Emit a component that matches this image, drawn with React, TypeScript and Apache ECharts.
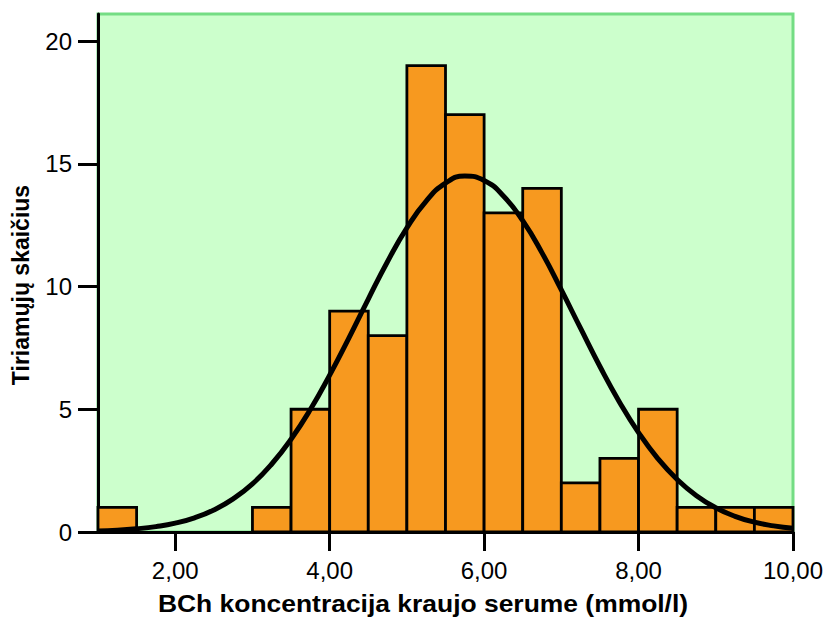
import React, { useEffect, useRef } from "react";
import * as echarts from "echarts";

// Histogram bins (start, end) and counts
const binStarts = [1.0, 1.5, 2.0, 2.5, 3.0, 3.5, 4.0, 4.5, 5.0, 5.5, 6.0, 6.5, 7.0, 7.5, 8.0, 8.5, 9.0, 9.5];
const binWidth = 0.5;
const counts = [1, 0, 0, 0, 1, 5, 9, 8, 19, 17, 13, 14, 2, 3, 5, 1, 1, 1];

// Normal curve, values
const curveX = [
  1.0, 1.25, 1.5, 1.75, 2.0, 2.25, 2.5, 2.75, 3.0, 3.25, 3.5, 3.75, 4.0, 4.25, 4.5, 4.75, 5.0, 5.25, 5.5,
  5.75, 6.0, 6.25, 6.5, 6.75, 7.0, 7.25, 7.5, 7.75, 8.0, 8.25, 8.5, 8.75, 9.0, 9.25, 9.5, 9.75, 10.0,
];
const curveY = [
  0.04, 0.07, 0.13, 0.22, 0.36, 0.58, 0.9, 1.35, 1.96, 2.77, 3.78, 4.99, 6.39, 7.91, 9.49, 11.02, 12.39, 13.48, 14.21,
  14.5, 14.32, 13.69, 12.68, 11.37, 9.86, 8.29, 6.74, 5.31, 4.05, 2.99, 2.14, 1.48, 0.99, 0.64, 0.4, 0.25, 0.15,
];

const xTickValues = [2, 4, 6, 8, 10];
const xTickLabels = ["2,00", "4,00", "6,00", "8,00", "10,00"];
const yTickValues = [0, 5, 10, 15, 20];

const xTitle = "BCh koncentracija kraujo serume (mmol/l)";
const yTitle = "Tiriamųjų skaičius";

const FONT = "'Liberation Sans', Arial, Helvetica, sans-serif";

export default function App() {
  const ref = useRef<HTMLDivElement>(null);

  useEffect(() => {
    if (!ref.current) return;
    const chart = echarts.init(ref.current, undefined, { renderer: "svg" });

    const histData = binStarts.map((s, i) => [s, s + binWidth, counts[i]]);
    const curveData = curveX.map((x, i) => [x, curveY[i]]);

    chart.setOption({
      animation: false,
      backgroundColor: "#ffffff",
      textStyle: { fontFamily: FONT },
      grid: {
        left: 98,
        right: 36,
        top: 14,
        bottom: 85,
        show: true,
        backgroundColor: "#ccffcc",
        borderColor: "#74dd84",
        borderWidth: 3,
      },
      xAxis: {
        type: "value",
        min: 1,
        max: 10,
        splitLine: { show: false },
        axisLine: { show: true, onZero: false, lineStyle: { color: "#000", width: 3 } },
        axisTick: {
          show: true,
          length: 19,
          lineStyle: { color: "#000", width: 3 },
          customValues: xTickValues,
        },
        axisLabel: {
          color: "#000",
          fontSize: 24,
          fontFamily: FONT,
          margin: 26,
          customValues: xTickValues,
          formatter: (v: number) => xTickLabels[xTickValues.indexOf(v)] ?? "",
        },
      },
      yAxis: {
        type: "value",
        min: 0,
        max: 21.1,
        splitLine: { show: false },
        axisLine: { show: true, lineStyle: { color: "#000", width: 3 } },
        axisTick: {
          show: true,
          length: 20,
          lineStyle: { color: "#000", width: 3 },
          customValues: yTickValues,
        },
        axisLabel: {
          color: "#000",
          fontSize: 24,
          fontFamily: FONT,
          margin: 26,
          customValues: yTickValues,
        },
      },
      series: [
        {
          type: "custom",
          data: histData,
          encode: { x: [0, 1], y: 2 },
          z: 2,
          renderItem: (params: any, api: any) => {
            const x0 = api.value(0);
            const x1 = api.value(1);
            const y = api.value(2);
            if (!y) return null;
            const p0 = api.coord([x0, y]);
            const p1 = api.coord([x1, 0]);
            return {
              type: "rect",
              shape: { x: p0[0], y: p0[1], width: p1[0] - p0[0], height: p1[1] - p0[1] },
              style: { fill: "#f7991f", stroke: "#000", lineWidth: 2.8 },
            };
          },
        },
        {
          type: "line",
          data: curveData,
          smooth: true,
          showSymbol: false,
          symbol: "none",
          z: 5,
          lineStyle: { color: "#000", width: 5 },
        },
      ],
      graphic: [
        {
          type: "text",
          x: 423,
          y: 604,
          scaleX: 1.15,
          style: {
            text: xTitle,
            fontSize: 23,
            fontWeight: "bold",
            fontFamily: FONT,
            fill: "#000",
            align: "center",
            verticalAlign: "middle",
          },
        },
        {
          type: "text",
          x: 21,
          y: 285,
          rotation: Math.PI / 2,
          style: {
            text: yTitle,
            fontSize: 23,
            fontWeight: "bold",
            fontFamily: FONT,
            fill: "#000",
            align: "center",
            verticalAlign: "middle",
          },
        },
      ],
    });

    return () => chart.dispose();
  }, []);

  return (
    <div
      ref={ref}
      style={{ position: "fixed", left: 0, top: 0, width: 829, height: 617 }}
    />
  );
}
